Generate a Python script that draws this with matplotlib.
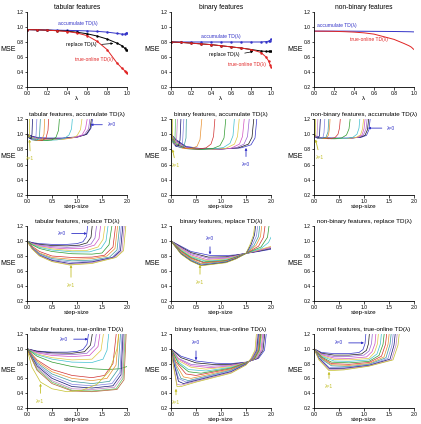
"""MSE vs lambda / step-size for accumulate, replace and true-online TD(lambda)."""

import matplotlib.pyplot as plt

plt.rcParams["font.family"] = ["Liberation Sans", "DejaVu Sans"]

# ---- top row: MSE vs lambda -------------------------------------------------
lam_top = [0, 0.1, 0.2, 0.3, 0.4, 0.5, 0.6, 0.7, 0.8, 0.9, 0.95, 0.975, 0.99, 1.0]

tab_acc_lam = [.965, .963, .96, .958, .955, .952, .948, .942, .932, .915, .905, .905, .915, .925]
tab_rep_lam = [.965, .962, .958, .952, .945, .93, .91, .88, .84, .785, .75, .72, .70, .69]
tab_tol_lam = [.965, .963, .958, .95, .94, .92, .885, .81, .70, .52, .45, .42, .40, .385]

bin_acc_lam = [.80, .80, .80, .80, .80, .80, .80, .80, .80, .80, .805, .81, .82, .84]
bin_rep_lam = [.80, .795, .785, .775, .765, .75, .735, .72, .70, .68, .675, .675, .675, .675]
bin_tol_lam = [.80, .795, .785, .775, .765, .75, .735, .72, .70, .66, .60, .55, .50, .47]

nb_acc_lam = [.945, .945, .945, .945, .944, .943, .942, .941, .94, .938, .937, .936, .935, .935]
nb_tol_lam = [.945, .944, .942, .938, .932, .922, .905, .87, .835, .78, .75, .73, .71, .70]

# ---- step-size sweeps, one curve per lambda (lambda=0 first, lambda=1 last) --
tab_acc_a = [
    [0, .1, .2, .4, .7, 1.0, 1.2, 1.28, 1.34],
    [0, .1, .2, .4, .7, 1.0, 1.18, 1.26, 1.31],
    [0, .1, .2, .4, .7, 1.0, 1.15, 1.23, 1.28],
    [0, .1, .2, .4, .7, .95, 1.1, 1.17, 1.23],
    [0, .1, .2, .4, .7, .9, 1.0, 1.07, 1.12],
    [0, .1, .2, .4, .6, .75, .84, .89, .92],
    [0, .05, .1, .2, .35, .5, .58, .63, .66],
    [0, .05, .1, .2, .3, .38, .42, .44],
    [0, .05, .1, .2, .3, .34, .36],
    [0, .05, .1, .2, .25, .275],
    [0, .05, .1, .15, .18, .205],
    [0, .04, .08, .1, .115],
    [0, .02, .04, .05, .055],
]
tab_acc_m = [
    [1.0, .975, .96, .95, .95, .965, 1.0, 1.08, 1.3],
    [1.0, .97, .95, .94, .945, .96, .995, 1.07, 1.3],
    [1.0, .965, .945, .935, .94, .96, .995, 1.07, 1.3],
    [1.0, .96, .94, .93, .935, .955, .99, 1.07, 1.3],
    [1.0, .955, .935, .925, .93, .95, .98, 1.06, 1.3],
    [1.0, .95, .93, .92, .925, .945, .99, 1.07, 1.3],
    [1.0, .965, .94, .92, .915, .925, .96, 1.05, 1.3],
    [1.0, .96, .935, .915, .915, .95, 1.05, 1.3],
    [1.0, .955, .93, .915, .93, 1.0, 1.3],
    [1.0, .95, .925, .92, .97, 1.3],
    [1.0, .95, .93, .93, .98, 1.3],
    [1.0, .95, .94, 1.0, 1.3],
    [1.0, .97, .96, 1.0, 1.3],
]

bin_acc_a = [
    [0, .1, .3, .6, 1.0, 1.4, 1.6, 1.68, 1.73],
    [0, .1, .3, .6, 1.0, 1.35, 1.55, 1.62, 1.67],
    [0, .1, .3, .6, 1.0, 1.3, 1.46, 1.53, 1.58],
    [0, .1, .3, .6, 1.0, 1.2, 1.37, 1.43, 1.48],
    [0, .1, .3, .6, .9, 1.1, 1.27, 1.33, 1.38],
    [0, .1, .3, .6, .9, 1.05, 1.18, 1.24, 1.28],
    [0, .1, .3, .6, .85, .98, 1.06, 1.11],
    [0, .1, .3, .55, .7, .8, .85, .89],
    [0, .1, .25, .4, .52, .58, .63],
    [0, .05, .1, .2, .26, .3, .31],
    [0, .05, .1, .17, .23, .265],
    [0, .05, .1, .15, .18, .205],
    [0, .04, .08, .11, .135],
    [0, .03, .06, .08, .095],
    [0, .015, .025, .035],
]
bin_acc_m = [
    [1.0, .93, .84, .81, .805, .82, .86, .95, 1.3],
    [1.0, .92, .83, .805, .805, .82, .87, .96, 1.3],
    [1.0, .91, .825, .805, .805, .82, .87, .97, 1.3],
    [1.0, .90, .82, .80, .805, .815, .87, .97, 1.3],
    [.99, .89, .815, .80, .805, .815, .87, .97, 1.3],
    [.99, .88, .81, .80, .81, .825, .88, .98, 1.3],
    [.98, .87, .81, .80, .815, .85, .95, 1.3],
    [.98, .86, .81, .805, .82, .87, .97, 1.3],
    [.98, .85, .81, .81, .84, .93, 1.3],
    [.97, .90, .85, .82, .84, .95, 1.3],
    [.97, .89, .84, .83, .88, 1.3],
    [.97, .88, .84, .85, .92, 1.3],
    [.97, .88, .86, .90, 1.3],
    [.97, .90, .88, .95, 1.3],
    [.97, .93, .95, 1.3],
]

nb_acc_a = [
    [0, .05, .15, .4, .7, .95, 1.05, 1.1, 1.14],
    [0, .05, .15, .4, .7, .92, 1.02, 1.07, 1.11],
    [0, .05, .15, .4, .7, .9, .99, 1.04, 1.08],
    [0, .05, .15, .4, .7, .87, .96, 1.0, 1.04],
    [0, .05, .15, .4, .7, .85, .93, .97, 1.01],
    [0, .05, .15, .4, .65, .78, .86, .9, .93],
    [0, .05, .15, .35, .55, .65, .7, .74],
    [0, .05, .15, .3, .42, .48, .51, .54],
    [0, .05, .15, .25, .29, .31, .33],
    [0, .05, .15, .24, .28, .305],
    [0, .05, .12, .18, .2, .225],
    [0, .04, .08, .11, .135],
    [0, .03, .06, .085],
    [0, .015, .025, .035],
]
nb_acc_m = [
    [1.0, .97, .955, .95, .95, .96, .985, 1.06, 1.3],
    [1.0, .965, .95, .945, .945, .96, .985, 1.06, 1.3],
    [1.0, .96, .95, .945, .945, .96, .99, 1.07, 1.3],
    [1.0, .96, .945, .94, .945, .96, .99, 1.07, 1.3],
    [.99, .955, .945, .94, .945, .96, .99, 1.07, 1.3],
    [.99, .955, .945, .94, .945, .96, 1.0, 1.08, 1.3],
    [.99, .955, .945, .94, .95, .99, 1.07, 1.3],
    [.99, .955, .945, .94, .955, 1.0, 1.08, 1.3],
    [.99, .955, .945, .95, .99, 1.08, 1.3],
    [.99, .955, .945, .96, 1.03, 1.3],
    [.98, .955, .945, .96, 1.02, 1.3],
    [.98, .955, .95, .98, 1.3],
    [.98, .96, .97, 1.3],
    [.98, .965, .99, 1.3],
]

tab_rep_a = [
    [0, .1, .25, .5, .8, 1.0, 1.12, 1.19, 1.23],
    [0, .1, .25, .5, .8, 1.05, 1.2, 1.28, 1.32],
    [0, .1, .25, .5, .8, 1.1, 1.28, 1.36, 1.41],
    [0, .1, .25, .5, .8, 1.15, 1.35, 1.44, 1.49],
    [0, .1, .25, .5, .9, 1.2, 1.42, 1.52, 1.58],
    [0, .1, .25, .5, .9, 1.25, 1.48, 1.58, 1.64],
    [0, .1, .25, .5, .9, 1.3, 1.5, 1.64, 1.72],
    [0, .1, .25, .5, .9, 1.3, 1.55, 1.72, 1.79],
    [0, .1, .25, .5, .9, 1.3, 1.6, 1.76, 1.83],
    [0, .1, .25, .5, .9, 1.3, 1.65, 1.8, 1.87],
    [0, .1, .25, .5, .9, 1.3, 1.7, 1.84, 1.9],
    [0, .1, .25, .5, .85, 1.3, 1.72, 1.87, 1.93],
    [0, .1, .25, .5, .85, 1.3, 1.75, 1.9, 1.96],
    [0, .1, .25, .5, .85, 1.3, 1.78, 1.93, 1.99],
]
tab_rep_m = [
    [1.0, .98, .965, .955, .955, .965, .99, 1.06, 1.3],
    [1.0, .975, .955, .94, .935, .945, .975, 1.05, 1.3],
    [1.0, .97, .945, .925, .915, .925, .96, 1.04, 1.3],
    [1.0, .965, .935, .91, .895, .905, .945, 1.03, 1.3],
    [1.0, .96, .925, .895, .87, .875, .92, 1.02, 1.3],
    [1.0, .955, .915, .88, .855, .855, .90, 1.0, 1.3],
    [1.0, .95, .90, .86, .83, .825, .84, .95, 1.3],
    [1.0, .93, .86, .80, .78, .785, .81, .92, 1.3],
    [1.0, .92, .84, .78, .755, .765, .80, .90, 1.3],
    [1.0, .915, .83, .765, .735, .745, .785, .88, 1.3],
    [1.0, .91, .82, .75, .715, .73, .78, .87, 1.3],
    [1.0, .905, .81, .74, .70, .72, .78, .87, 1.3],
    [1.0, .90, .805, .73, .69, .71, .78, .87, 1.3],
    [1.0, .895, .80, .725, .68, .70, .78, .87, 1.3],
]

bin_rep_a = [
    [0, .2, .4, .8, 1.1, 1.3, 1.5, 1.75, 2.0],
    [0, .2, .4, .75, 1.1, 1.3, 1.5, 1.75, 2.0],
    [0, .2, .4, .75, 1.1, 1.3, 1.5, 1.75, 2.0],
    [0, .2, .4, .7, 1.1, 1.3, 1.5, 1.75, 2.0],
    [0, .2, .4, .7, 1.1, 1.3, 1.5, 1.75, 2.0],
    [0, .2, .4, .7, 1.1, 1.3, 1.5, 1.8, 1.95, 2.0],
    [0, .2, .4, .65, 1.1, 1.3, 1.5, 1.8, 1.93, 1.98],
    [0, .2, .4, .65, 1.1, 1.3, 1.5, 1.75, 1.85, 1.9],
    [0, .2, .4, .6, 1.1, 1.3, 1.5, 1.7, 1.79, 1.83],
    [0, .2, .4, .6, 1.1, 1.3, 1.5, 1.66, 1.75, 1.79],
    [0, .2, .4, .6, 1.1, 1.3, 1.5, 1.63, 1.71, 1.75],
    [0, .2, .4, .6, 1.1, 1.3, 1.5, 1.6, 1.67, 1.71],
    [0, .2, .4, .6, 1.1, 1.3, 1.5, 1.58, 1.65, 1.69],
]
bin_rep_m = [
    [1.0, .93, .86, .805, .805, .815, .835, .86, .89],
    [1.0, .92, .845, .785, .79, .81, .835, .865, .90],
    [1.0, .91, .83, .77, .78, .805, .835, .87, .91],
    [1.0, .90, .815, .755, .77, .80, .835, .875, .92],
    [1.0, .89, .80, .74, .76, .795, .835, .88, .93],
    [1.0, .88, .79, .73, .75, .79, .835, .90, .98, 1.05],
    [1.0, .87, .78, .72, .74, .785, .835, .92, 1.05, 1.3],
    [1.0, .86, .77, .71, .735, .78, .835, .93, 1.05, 1.3],
    [1.0, .85, .76, .70, .73, .775, .835, .94, 1.06, 1.3],
    [1.0, .84, .75, .69, .725, .77, .835, .94, 1.06, 1.3],
    [1.0, .835, .74, .68, .72, .77, .835, .95, 1.07, 1.3],
    [1.0, .83, .735, .675, .715, .765, .835, .95, 1.08, 1.3],
    [1.0, .825, .73, .67, .71, .76, .835, .95, 1.08, 1.3],
]

tab_tol_a = [
    [0, .2, .5, .8, 1.0, 1.12, 1.2, 1.25],
    [0, .2, .5, .9, 1.15, 1.27, 1.33],
    [0, .2, .5, .9, 1.2, 1.35, 1.41],
    [0, .2, .5, .9, 1.25, 1.42, 1.48],
    [0, .2, .5, .9, 1.3, 1.48, 1.55],
    [0, .2, .5, .9, 1.3, 1.52, 1.6, 1.65],
    [0, .2, .5, .9, 1.3, 1.6, 1.85, 2.0],
    [0, .2, .5, .9, 1.3, 1.55, 1.72, 1.8],
    [0, .2, .5, .9, 1.3, 1.6, 1.78, 1.85],
    [0, .2, .5, .9, 1.3, 1.65, 1.82, 1.88],
    [0, .2, .5, .9, 1.3, 1.7, 1.86, 1.91],
    [0, .2, .5, .9, 1.3, 1.72, 1.88, 1.93],
    [0, .2, .5, .9, 1.3, 1.75, 1.9, 1.95],
    [0, .2, .5, .9, 1.3, 1.78, 1.92, 1.97],
    [0, .2, .5, .9, 1.3, 1.8, 1.94, 1.99],
    [0, .1, .27, .5, .8, 1.1, 1.4, 1.65, 1.8, 1.85],
]
tab_tol_m = [
    [1.0, .97, .955, .955, .965, .99, 1.06, 1.3],
    [1.0, .965, .945, .94, .96, 1.05, 1.3],
    [1.0, .955, .93, .92, .94, 1.04, 1.3],
    [1.0, .945, .91, .895, .91, 1.03, 1.3],
    [1.0, .93, .88, .85, .86, .98, 1.3],
    [1.0, .92, .86, .82, .815, .86, .98, 1.3],
    [1.0, .90, .82, .76, .73, .72, .73, .76],
    [1.0, .85, .72, .64, .61, .64, .80, 1.3],
    [1.0, .83, .69, .60, .57, .60, .78, 1.3],
    [1.0, .81, .66, .56, .53, .56, .72, 1.3],
    [1.0, .79, .63, .52, .50, .53, .68, 1.3],
    [1.0, .77, .60, .49, .47, .50, .65, 1.3],
    [1.0, .75, .57, .46, .45, .48, .62, 1.3],
    [1.0, .73, .55, .44, .43, .46, .60, 1.3],
    [1.0, .71, .53, .43, .42, .45, .58, 1.3],
    [1.0, .75, .55, .46, .42, .44, .52, .70, 1.0, 1.3],
]

bin_tol_a = [
    [0, .2, .5, .9, 1.2, 1.5, 1.75, 1.87, 1.92],
    [0, .2, .5, .9, 1.2, 1.5, 1.73, 1.84, 1.89],
    [0, .15, .4, .8, 1.2, 1.5, 1.72, 1.82, 1.87],
    [0, .15, .4, .8, 1.2, 1.5, 1.7, 1.8, 1.85],
    [0, .15, .4, .7, 1.2, 1.5, 1.69, 1.78, 1.83],
    [0, .15, .35, .7, 1.2, 1.5, 1.68, 1.77, 1.82],
    [0, .15, .35, .6, 1.2, 1.5, 1.67, 1.76, 1.81],
    [0, .1, .3, .5, 1.2, 1.5, 1.66, 1.75, 1.8],
    [0, .1, .25, .4, 1.2, 1.5, 1.65, 1.74, 1.79],
    [0, .1, .2, .35, 1.2, 1.5, 1.64, 1.73, 1.78],
    [0, .05, .15, .3, 1.2, 1.5, 1.63, 1.72, 1.77],
    [0, .05, .15, .25, 1.2, 1.5, 1.62, 1.71, 1.76],
    [0, .05, .12, .2, .5, 1.2, 1.5, 1.62, 1.7, 1.74],
    [0, .05, .12, .2, .5, 1.2, 1.5, 1.6, 1.68, 1.72],
]
bin_tol_m = [
    [1.0, .90, .835, .805, .80, .82, .87, .98, 1.3],
    [1.0, .88, .81, .785, .79, .815, .87, .98, 1.3],
    [1.0, .87, .79, .765, .78, .815, .87, .98, 1.3],
    [1.0, .86, .77, .745, .77, .815, .87, .98, 1.3],
    [1.0, .84, .75, .725, .76, .815, .87, .98, 1.3],
    [1.0, .82, .72, .70, .75, .81, .87, .98, 1.3],
    [1.0, .80, .69, .67, .74, .81, .87, .98, 1.3],
    [1.0, .82, .66, .64, .73, .805, .87, .98, 1.3],
    [1.0, .79, .62, .60, .72, .80, .87, .98, 1.3],
    [1.0, .76, .60, .57, .71, .80, .87, .98, 1.3],
    [1.0, .85, .60, .55, .70, .795, .87, .98, 1.3],
    [1.0, .82, .56, .53, .69, .79, .87, .98, 1.3],
    [1.0, .78, .52, .51, .56, .68, .785, .87, .98, 1.3],
    [1.0, .76, .49, .49, .55, .67, .78, .87, .98, 1.3],
]

nrm_tol_a = [
    [0, .15, .4, .7, .9, .98, 1.02, 1.05],
    [0, .15, .4, .7, .95, 1.05, 1.09, 1.12],
    [0, .15, .4, .7, 1.0, 1.1, 1.15, 1.18],
    [0, .15, .4, .7, 1.05, 1.16, 1.22, 1.25],
    [0, .15, .4, .7, 1.1, 1.21, 1.27, 1.3],
    [0, .15, .4, .7, 1.1, 1.26, 1.33, 1.36],
    [0, .15, .35, .7, 1.1, 1.3, 1.38, 1.42],
    [0, .15, .35, .7, 1.1, 1.35, 1.43, 1.47],
    [0, .15, .35, .7, 1.1, 1.4, 1.48, 1.52],
    [0, .15, .35, .7, 1.1, 1.44, 1.52, 1.56],
    [0, .1, .3, .6, 1.1, 1.48, 1.56, 1.6],
    [0, .1, .3, .6, 1.1, 1.52, 1.6, 1.64],
    [0, .1, .3, .6, 1.1, 1.55, 1.64, 1.68],
    [0, .1, .3, .6, 1.1, 1.58, 1.68, 1.72],
]
nrm_tol_m = [
    [1.0, .95, .935, .935, .95, .99, 1.07, 1.3],
    [1.0, .94, .915, .915, .93, .98, 1.07, 1.3],
    [1.0, .93, .895, .895, .915, .97, 1.07, 1.3],
    [1.0, .92, .875, .87, .89, .96, 1.07, 1.3],
    [1.0, .91, .855, .85, .87, .95, 1.07, 1.3],
    [1.0, .90, .835, .83, .85, .93, 1.07, 1.3],
    [1.0, .89, .82, .81, .83, .91, 1.06, 1.3],
    [1.0, .88, .80, .79, .815, .90, 1.06, 1.3],
    [1.0, .87, .785, .775, .80, .89, 1.06, 1.3],
    [1.0, .86, .77, .76, .79, .88, 1.06, 1.3],
    [1.0, .88, .75, .745, .78, .87, 1.05, 1.3],
    [1.0, .87, .735, .735, .775, .86, 1.05, 1.3],
    [1.0, .86, .72, .725, .77, .85, 1.05, 1.3],
    [1.0, .85, .705, .715, .765, .85, 1.05, 1.3],
]

BLUE = "#3434c8"
RED = "#e02424"
YEL = "#c4c02c"
palette = ["#3434c8", "#1a1a1a", "#9a62d2", "#d050c0", "#e0c840", "#40c0d0",
           "#2e9a2e", "#d03030", "#e89030", "#3a9a9a", "#8080e0", "#101070",
           "#c080c0", "#60c060", "#b06030", "#7070b0"]

W, H = 421, 424
fig = plt.figure(figsize=(W / 100, H / 100), dpi=100)

col_x = [27, 171, 314]
row_y = [(12, 87), (119, 195), (226, 301), (334, 408)]


def make_ax(r, c):
    top, bot = row_y[r]
    ax = fig.add_axes([col_x[c] / W, 1 - bot / H, 100 / W, (bot - top) / H])
    for s in ("top", "right"):
        ax.spines[s].set_visible(False)
    for s in ("left", "bottom"):
        ax.spines[s].set_linewidth(0.6)
    ax.tick_params(labelsize=3.6, length=1.8, width=0.5, pad=0.8)
    ax.set_ylim(0.2, 1.2)
    ax.set_yticks([0.2, 0.4, 0.6, 0.8, 1.0, 1.2])
    ax.set_ylabel("MSE", fontsize=5, rotation=0, va="center", ha="center")
    ax.yaxis.set_label_coords(-0.19, 0.5)
    return ax


def label(ax, text, xy, xytext, color):
    ax.annotate(text, xy=xy, xytext=xytext, fontsize=3.6, color=color,
                ha="center", va="center",
                arrowprops=dict(arrowstyle="-|>", color=color, lw=0.6,
                                mutation_scale=3, shrinkA=2, shrinkB=0))


def top_panel(c, title):
    ax = make_ax(0, c)
    ax.set_xlim(0, 1)
    ax.set_xticks([0, 0.2, 0.4, 0.6, 0.8, 1.0])
    ax.set_xlabel("λ", fontsize=4.5, labelpad=0.5)
    ax.set_title(title, fontsize=4.8, pad=2)
    return ax


def sweep_panel(r, c, title, alphas, mses):
    ax = make_ax(r, c)
    ax.set_xlim(0, 2)
    ax.set_xticks([0, 0.5, 1.0, 1.5, 2.0])
    ax.set_xlabel("step-size", fontsize=4.6, labelpad=0)
    ax.set_title(title, fontsize=4.5, pad=2)
    n = len(alphas)
    cols = palette[:n - 1] + [YEL]
    for a, m, col in zip(alphas, mses, cols):
        ax.plot(a, m, color=col, lw=0.5, clip_on=True)
    return ax


# row 1
ax = top_panel(0, "tabular features")
ax.plot(lam_top, tab_acc_lam, color=BLUE, lw=0.7, marker=".", ms=1.5)
ax.plot(lam_top, tab_rep_lam, color="black", lw=0.7, marker=".", ms=1.5)
ax.plot(lam_top, tab_tol_lam, color=RED, lw=0.7, marker=".", ms=1.5)
ax.text(0.51, 1.03, "accumulate TD(λ)", color=BLUE, fontsize=3.6, ha="center")
ax.text(0.54, 0.765, "replace TD(λ)", color="black", fontsize=3.6, ha="center", va="center")
ax.annotate("", xy=(0.89, 0.785), xytext=(0.72, 0.765),
            arrowprops=dict(arrowstyle="-|>", color="black", lw=0.5, mutation_scale=3))
ax.text(0.67, 0.565, "true-online TD(λ)", color=RED, fontsize=3.6, ha="center", va="center")

ax = top_panel(1, "binary features")
ax.plot(lam_top, bin_acc_lam, color=BLUE, lw=0.7, marker=".", ms=1.5)
ax.plot(lam_top, bin_rep_lam, color="black", lw=0.7, marker=".", ms=1.5)
ax.plot(lam_top, bin_tol_lam, color=RED, lw=0.7, marker=".", ms=1.5)
ax.text(0.5, 0.87, "accumulate TD(λ)", color=BLUE, fontsize=3.6, ha="center", va="center")
ax.text(0.53, 0.64, "replace TD(λ)", color="black", fontsize=3.6, ha="center", va="center")
ax.annotate("", xy=(0.85, 0.68), xytext=(0.71, 0.645),
            arrowprops=dict(arrowstyle="-|>", color="black", lw=0.5, mutation_scale=3))
ax.text(0.76, 0.5, "true-online TD(λ)", color=RED, fontsize=3.6, ha="center", va="center")

ax = top_panel(2, "non-binary features")
ax.plot(lam_top, nb_acc_lam, color=BLUE, lw=0.7)
ax.plot(lam_top, nb_tol_lam, color=RED, lw=0.7)
ax.text(0.23, 1.02, "accumulate TD(λ)", color=BLUE, fontsize=3.6, ha="center", va="center")
ax.text(0.55, 0.83, "true-online TD(λ)", color=RED, fontsize=3.6, ha="center", va="center")

# row 2
ax = sweep_panel(1, 0, "tabular features, accumulate TD(λ)", tab_acc_a, tab_acc_m)
label(ax, "λ=0", (1.27, 1.125), (1.7, 1.125), BLUE)
label(ax, "λ=1", (0.05, 0.93), (0.07, 0.675), YEL)

ax = sweep_panel(1, 1, "binary features, accumulate TD(λ)", bin_acc_a, bin_acc_m)
label(ax, "λ=0", (1.5, 0.82), (1.5, 0.6), BLUE)
label(ax, "λ=1", (0.03, 0.8), (0.1, 0.585), YEL)

ax = sweep_panel(1, 2, "non-binary features, accumulate TD(λ)", nb_acc_a, nb_acc_m)
label(ax, "λ=0", (1.08, 1.08), (1.55, 1.08), BLUE)
label(ax, "λ=1", (0.03, 0.93), (0.12, 0.69), YEL)

# row 3
ax = sweep_panel(2, 0, "tabular features, replace TD(λ)", tab_rep_a, tab_rep_m)
label(ax, "λ=0", (1.2, 1.1), (0.7, 1.1), BLUE)
label(ax, "λ=1", (0.88, 0.68), (0.88, 0.41), YEL)

ax = sweep_panel(2, 1, "binary features, replace TD(λ)", bin_rep_a, bin_rep_m)
label(ax, "λ=0", (0.78, 0.82), (0.78, 1.03), BLUE)
label(ax, "λ=1", (0.58, 0.68), (0.58, 0.45), YEL)

sweep_panel(2, 2, "non-binary features, replace TD(λ)", [], [])

# row 4
ax = sweep_panel(3, 0, "tabular features, true-online TD(λ)", tab_tol_a, tab_tol_m)
label(ax, "λ=0", (1.22, 1.13), (0.74, 1.13), BLUE)
label(ax, "λ=1", (0.27, 0.53), (0.27, 0.29), YEL)

ax = sweep_panel(3, 1, "binary features, true-online TD(λ)", bin_tol_a, bin_tol_m)
label(ax, "λ=0", (0.5, 0.845), (0.5, 1.08), BLUE)
label(ax, "λ=1", (0.1, 0.46), (0.1, 0.27), YEL)

ax = sweep_panel(3, 2, "normal features, true-online TD(λ)", nrm_tol_a, nrm_tol_m)
label(ax, "λ=0", (1.0, 1.08), (0.5, 1.08), BLUE)
label(ax, "λ=1", (0.3, 0.69), (0.3, 0.49), YEL)

fig.savefig("out.png", dpi=100)
